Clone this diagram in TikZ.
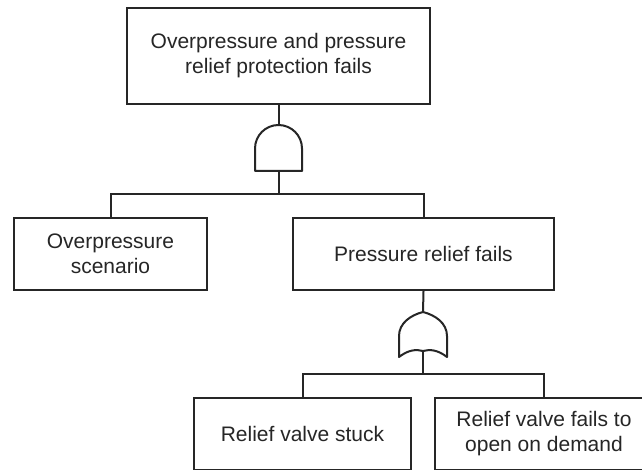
\documentclass[tikz,border=0pt]{standalone}
\usepackage{fontspec}
\setmainfont{Liberation Sans}
\begin{document}
\begin{tikzpicture}[x=1pt,y=-1pt,
  line/.style={draw=black!85, line width=2pt},
  event/.style={line, rectangle, inner sep=0pt, align=center,
    text=black!85, font=\fontsize{21}{25}\selectfont, fill=white},
  gatepath/.style={line, line join=round, fill=white}]
  \useasboundingbox (0,0) rectangle (642,470);
  \clip (0,0) rectangle (642,470);

  % events
  \node[event, minimum width=303pt, minimum height=96pt] (top) at (278.5,56)
    {Overpressure and pressure\\relief protection fails};
  \node[event, minimum width=193pt, minimum height=72pt] (ovp) at (110.5,254)
    {Overpressure\\scenario};
  \node[event, minimum width=261pt, minimum height=72pt] (prf) at (423.5,254)
    {Pressure relief fails};
  \node[event, minimum width=217pt, minimum height=72pt] (stuck) at (302.5,434)
    {Relief valve stuck};
  \node[event, minimum width=218pt, minimum height=72pt] (open) at (544,434)
    {Relief valve fails to\\open on demand};

  % AND gate
  \coordinate (andtop) at (278.5,125);
  \coordinate (andbot) at (278.5,171);
  \draw[gatepath] (255,171) -- (255,148.5) arc[start angle=180, end angle=360, radius=23.5]
    -- (302,171) -- cycle;

  % OR gate
  \coordinate (ortop) at (423,312);
  \coordinate (orbot) at (423,351);
  \draw[gatepath] (399,357) -- (399,336)
    .. controls (399,323) and (411,315) .. (ortop)
    .. controls (435,315) and (447,323) .. (447,336)
    -- (447,357)
    .. controls (438,350) and (430,349) .. (orbot)
    .. controls (416,349) and (408,350) .. (399,357) -- cycle;

  % junction bars
  \coordinate (bar1) at (278.5,194);
  \coordinate (bar2) at (423,374);

  % connectors
  \draw[line] (top.south) -- (andtop);
  \draw[line] (andbot) -- (bar1);
  \draw[line] (bar1) -| (ovp.north);
  \draw[line] (bar1) -| (prf.north);
  \draw[line] (prf.south) -- (ortop);
  \draw[line] (orbot) -- (bar2);
  \draw[line] (bar2) -| (stuck.north);
  \draw[line] (bar2) -| (open.north);
\end{tikzpicture}
\end{document}
